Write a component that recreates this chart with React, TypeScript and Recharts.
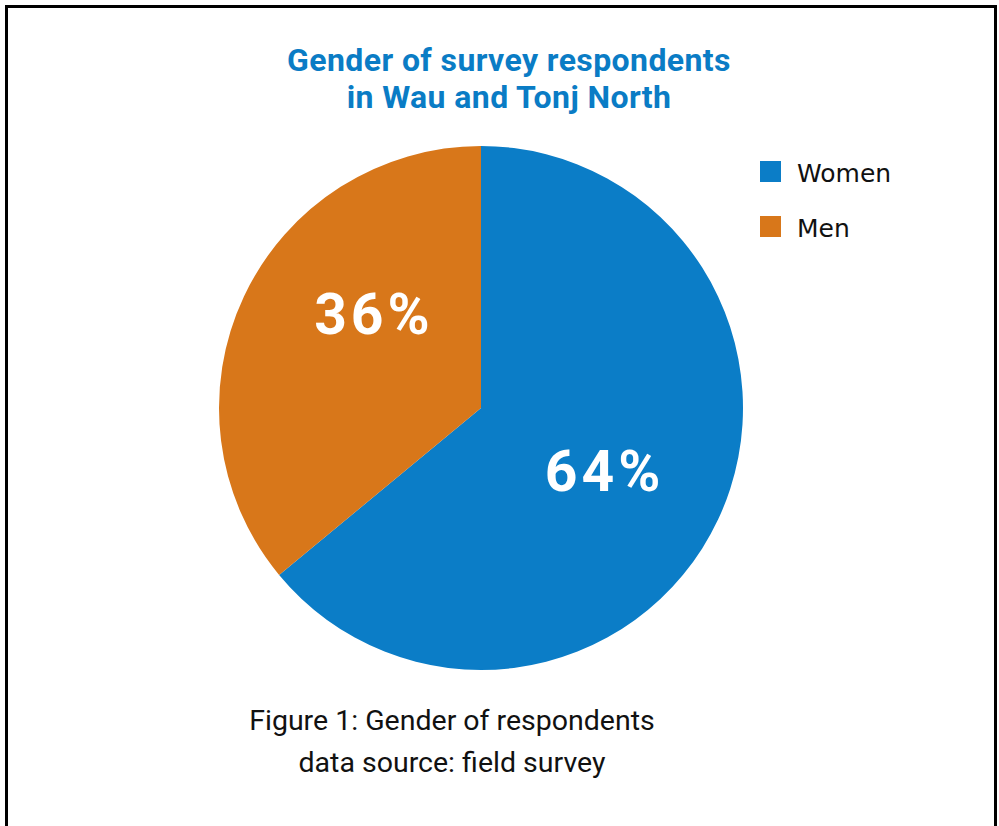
import React from 'react';
import { PieChart, Pie, Cell, Legend } from 'recharts';

const genders = ['Women', 'Men'];
const shares = [64, 36];
const colors = ['#0b7dc7', '#d8771a'];

const titleLines = ['Gender of survey respondents', 'in Wau and Tonj North'];
const captionLines = ['Figure 1: Gender of respondents', 'data source: field survey'];

const pieData = genders.map((name, i) => ({ name, value: shares[i] }));

const RADIAN = Math.PI / 180;
// small nudges so the labels sit where the original has them
const labelAngleShift = [-3, -15];

const renderLabel = (props: any) => {
    const { cx, cy, midAngle, outerRadius, index, value } = props;
    const a = (midAngle + labelAngleShift[index]) * RADIAN;
    const r = outerRadius * 0.535;
    const x = cx + r * Math.cos(a);
    const y = cy - r * Math.sin(a) - 3;
    return (
        <text x={x} y={y} fill="#fff" textAnchor="middle" dominantBaseline="central"
            fontFamily="Roboto, sans-serif" fontWeight={700} fontSize={57} letterSpacing={4}>
            {value}%
        </text>
    );
};

const renderLegend = (props: any) => {
    const items = [...props.payload].sort(
        (a: any, b: any) => genders.indexOf(a.value) - genders.indexOf(b.value)
    );
    return (
        <div>
            {items.map((entry: any) => (
                <div key={entry.value} style={{ display: 'flex', alignItems: 'center', height: 55 }}>
                    <span style={{ width: 21, height: 21, background: entry.color, display: 'inline-block', marginRight: 16 }} />
                    <span style={{ fontFamily: '"DejaVu Sans", sans-serif', fontSize: 25, color: '#111', marginTop: 4 }}>{entry.value}</span>
                </div>
            ))}
        </div>
    );
};

const App: React.FC = () => {
    return (
        <div style={{ position: 'absolute', left: 0, top: 0, width: 999, height: 826, background: '#fff', overflow: 'hidden' }}>
            <div style={{ position: 'absolute', left: 5, top: 5, width: 986, height: 900, border: '3px solid #000' }} />
            <PieChart width={999} height={826} margin={{ top: 0, right: 0, bottom: 0, left: 0 }}
                style={{ position: 'absolute', left: 0, top: 0 }}>
                {titleLines.map((t, i) => (
                    <text key={t} x={509} y={71 + i * 37} textAnchor="middle" fill="#0a7cc5"
                        fontFamily="Roboto, sans-serif" fontWeight={700} fontSize={32} letterSpacing={0.4}>
                        {t}
                    </text>
                ))}
                <Pie
                    data={pieData}
                    dataKey="value"
                    nameKey="name"
                    cx={481}
                    cy={408}
                    outerRadius={262}
                    startAngle={90}
                    endAngle={-270}
                    stroke="none"
                    label={renderLabel}
                    labelLine={false}
                    isAnimationActive={false}
                >
                    {pieData.map((d, i) => (
                        <Cell key={d.name} fill={colors[i]} />
                    ))}
                </Pie>
                <Legend
                    layout="vertical"
                    verticalAlign="top"
                    align="right"
                    content={renderLegend}
                    wrapperStyle={{ position: 'absolute', left: 760, top: 144, width: 200 }}
                />
                {captionLines.map((t, i) => (
                    <text key={t} x={452} y={730 + i * 42} textAnchor="middle" fill="#111"
                        fontFamily="Roboto, sans-serif" fontSize={28.5}>
                        {t}
                    </text>
                ))}
            </PieChart>
        </div>
    );
};

export default App;
